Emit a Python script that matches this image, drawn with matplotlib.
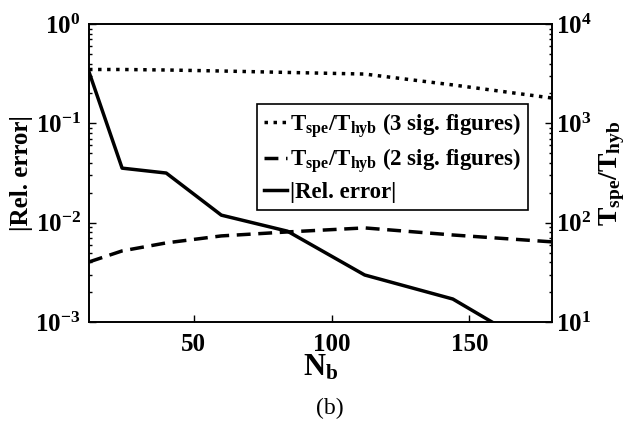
import matplotlib
matplotlib.use('Agg')
import matplotlib.pyplot as plt
from matplotlib.ticker import LogLocator

plt.rcParams['font.family'] = ['Liberation Serif', 'DejaVu Serif']
plt.rcParams['font.weight'] = 'bold'
plt.rcParams['mathtext.fontset'] = 'custom'
plt.rcParams['mathtext.rm'] = 'Liberation Serif:bold'
plt.rcParams['mathtext.it'] = 'Liberation Serif:bold'
plt.rcParams['mathtext.bf'] = 'Liberation Serif:bold'

# data
nb = [12, 24, 40, 60, 84, 112, 144, 180]
rel_err = [0.329, 0.0354, 0.0316, 0.0119, 0.0082, 0.00297, 0.0017, 0.00044]
ratio_3sig = [3490, 3490, 3450, 3370, 3260, 3140, 2440, 1800]
ratio_2sig = [40.2, 51.9, 62.5, 73.5, 80.6, 88.5, 75.1, 64.0]

fig = plt.figure(figsize=(6.36, 4.23), dpi=100)
ax = fig.add_axes([0.140, 0.239, 0.728, 0.704])
ax2 = ax.twinx()

l3, = ax2.plot(nb, ratio_3sig, color='black', lw=2.5, linestyle=(0, (1, 1.6)))
l2, = ax2.plot(nb, ratio_2sig, color='black', lw=2.5, linestyle=(0, (4, 2.2)))
l1, = ax.plot(nb, rel_err, color='black', lw=2.5)

ax.set_yscale('log')
ax2.set_yscale('log')
ax.set_xlim(12, 180)
ax.set_ylim(1e-3, 1)
ax2.set_ylim(10, 1e4)
ax.set_xticks([50, 100, 150])

for a in (ax, ax2):
    a.tick_params(which='both', direction='in', labelsize=18, width=1)
    a.tick_params(which='major', length=5)
    a.tick_params(which='minor', length=2.5)
    for s in a.spines.values():
        s.set_linewidth(1.2)
ax.tick_params(axis='y', which='both', right=False, pad=6)
ax2.tick_params(axis='y', pad=3)
ax.tick_params(axis='x', top=False, pad=8)
ax.yaxis.set_major_locator(LogLocator(base=10, numticks=10))
ax2.yaxis.set_major_locator(LogLocator(base=10, numticks=10))

ax.set_xlabel(r'$\mathrm{N_b}$', fontsize=22, labelpad=-2)
ax.set_ylabel('|Rel. error|', fontsize=18, fontweight='bold', labelpad=2)
ax2.set_ylabel(r'$\mathrm{T_{spe}/T_{hyb}}$', fontsize=20, labelpad=4)

leg = ax2.legend([l3, l2, l1],
                 [r'$\mathrm{T_{spe}/T_{hyb}}$ (3 sig. figures)',
                  r'$\mathrm{T_{spe}/T_{hyb}}$ (2 sig. figures)',
                  '|Rel. error|'],
                 loc='upper right', bbox_to_anchor=(0.948, 0.732),
                 fontsize=16.5, frameon=True, fancybox=False,
                 handlelength=1.0, handletextpad=0.15, borderpad=0.3,
                 labelspacing=0.3, borderaxespad=0)
leg.get_frame().set_edgecolor('black')
leg.get_frame().set_linewidth(1.2)
leg.get_frame().set_alpha(1)

fig.text(0.519, 0.035, '(b)', fontsize=17, fontweight='normal',
         ha='center', va='center')

fig.savefig('out.png', dpi=100)
